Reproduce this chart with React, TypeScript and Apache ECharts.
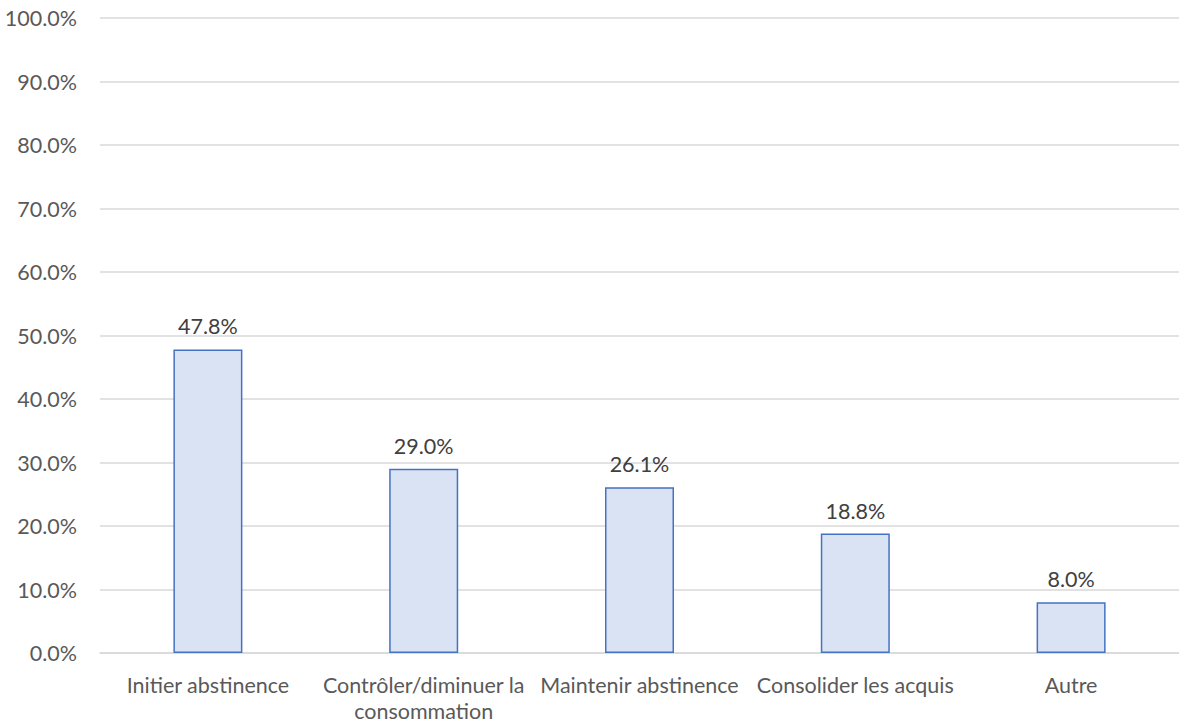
import React, { useEffect, useRef } from "react";
import * as echarts from "echarts";

// Objectifs déclarés (part des répondants, en %)
const categories = [
  "Initier abstinence",
  "Contrôler/diminuer la\nconsommation",
  "Maintenir abstinence",
  "Consolider les acquis",
  "Autre",
];
const values = [47.8, 29.0, 26.1, 18.8, 8.0];
const yTicks = { min: 0, max: 100, interval: 10 };

const FONT = "Lato";
const FONT_SIZE = 21.5;

export default function App() {
  const ref = useRef<HTMLDivElement>(null);

  useEffect(() => {
    if (!ref.current) return;
    const chart = echarts.init(ref.current, undefined, { renderer: "svg" });
    chart.setOption({
      animation: false,
      backgroundColor: "#ffffff",
      grid: { left: 100, top: 18, width: 1087.5, height: 637, containLabel: false },
      xAxis: {
        type: "category",
        data: categories,
        axisLine: { lineStyle: { color: "#d9d9d9", width: 1.5 } },
        axisTick: { show: false },
        axisLabel: {
          color: "#595959",
          fontFamily: FONT,
          fontSize: FONT_SIZE,
          margin: 19,
          lineHeight: 26,
          interval: 0,
        },
      },
      yAxis: {
        type: "value",
        min: yTicks.min,
        max: yTicks.max,
        interval: yTicks.interval,
        axisLine: { show: false },
        axisTick: { show: false },
        splitLine: { lineStyle: { color: "#d9d9d9", width: 1.5 } },
        axisLabel: {
          color: "#595959",
          fontFamily: FONT,
          fontSize: FONT_SIZE,
          margin: 23,
          formatter: (v: number) => v.toFixed(1) + "%",
        },
      },
      series: [
        {
          type: "bar",
          data: values,
          barWidth: 69,
          itemStyle: { color: "#dae3f3", borderColor: "#4472c4", borderWidth: 1.5 },
          label: {
            show: true,
            position: "top",
            distance: 12,
            color: "#404040",
            fontFamily: FONT,
            fontSize: FONT_SIZE,
            formatter: (p: any) => Number(p.value).toFixed(1) + "%",
          },
        },
      ],
    });
    return () => chart.dispose();
  }, []);

  return (
    <div
      ref={ref}
      style={{ position: "fixed", left: 0, top: 0, width: 1179, height: 724, background: "#fff" }}
    />
  );
}
